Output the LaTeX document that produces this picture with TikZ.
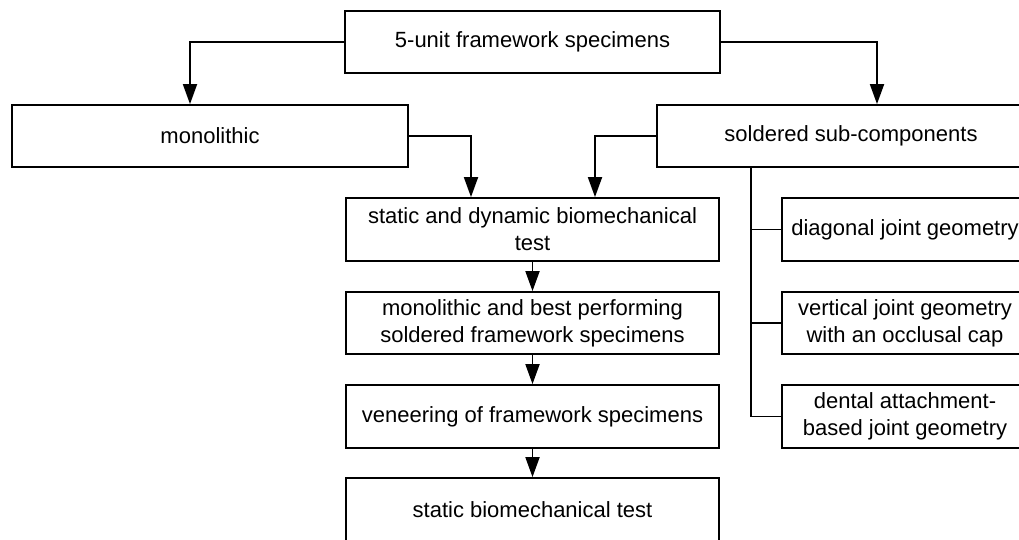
\documentclass[tikz,border=0pt]{standalone}
\usepackage{fontspec}
\setmainfont{Liberation Sans}
\usetikzlibrary{arrows.meta}
\begin{document}
\begin{tikzpicture}[x=1pt,y=-1pt,
  box/.style={draw, line width=1.8pt, minimum height=62pt, inner sep=0pt, align=center,
    font=\fontsize{22}{27}\selectfont},
  arr/.style={line width=1.8pt, -{Triangle[length=20pt,width=14pt]}},
  ln/.style={line width=1.8pt}]
\useasboundingbox (0,0) rectangle (1019,539);
\clip (0,0) rectangle (1019,539);
\node[box, minimum width=375pt] (top) at (532.5,42) {5-unit framework specimens};
\node[box, minimum width=396pt] (mono) at (210,136) {monolithic};
\node[box, minimum width=388pt] (sold) at (851,136) {soldered sub-components};
\node[box, minimum width=373pt, minimum height=63pt] (sd) at (532.5,229.5) {static and dynamic biomechanical\\test};
\node[box, minimum width=373pt] (best) at (532.5,323) {monolithic and best performing\\soldered framework specimens};
\node[box, minimum width=373pt, minimum height=63pt] (ven) at (532.5,416.5) {veneering of framework specimens};
\node[box, minimum width=373pt, minimum height=63pt] (stat) at (532.5,509.5) {static biomechanical test};
\node[box, minimum width=246pt, minimum height=63pt] (diag) at (905,229.5) {diagonal joint geometry};
\node[box, minimum width=246pt] (vert) at (905,323) {vertical joint geometry\\with an occlusal cap};
\node[box, minimum width=246pt, minimum height=63pt] (dent) at (905,416.5) {dental attachment-\\based joint geometry};
\draw[arr] (top.west) -| ([xshift=-20pt]mono.north);
\draw[arr] (top.east) -| ([xshift=26pt]sold.north);
\draw[arr] (mono.east) -| ([xshift=-61.5pt]sd.north);
\draw[arr] (sold.west) -| ([xshift=62.5pt]sd.north);
\draw[arr] (sd.south) -- (best.north);
\draw[arr] (best.south) -- (ven.north);
\draw[arr] (ven.south) -- (stat.north);
\coordinate (trunk) at ([xshift=-100pt]sold.south);
\draw[ln] (trunk) |- (dent.west);
\draw[ln] (trunk |- diag.west) -- (diag.west);
\draw[ln] (trunk |- vert.west) -- (vert.west);
\end{tikzpicture}
\end{document}
